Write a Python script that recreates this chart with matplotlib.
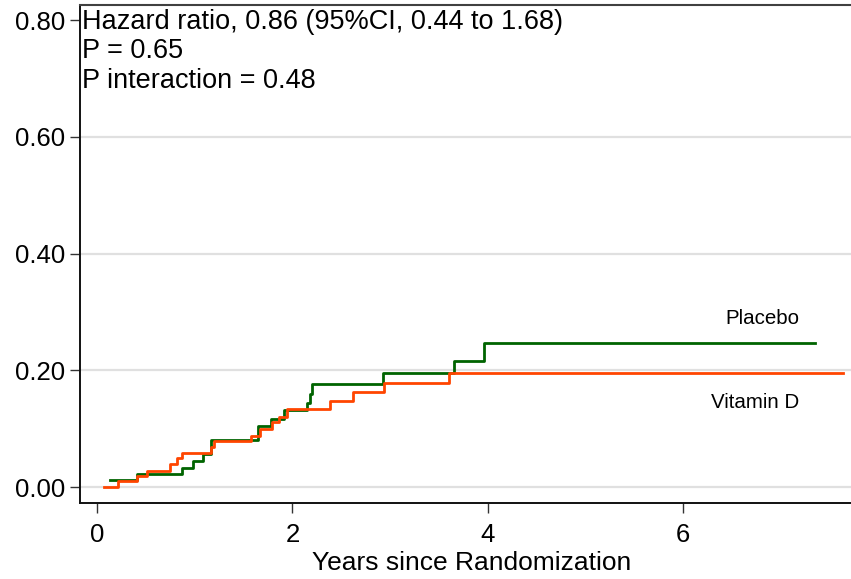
import matplotlib
matplotlib.use("Agg")
import matplotlib.pyplot as plt

# Data
vitd_t = [0.07, 0.215, 0.405, 0.51, 0.745, 0.82, 0.875, 1.165, 1.20, 1.575, 1.67, 1.79,
          1.865, 1.94, 2.385, 2.62, 2.94, 3.605, 7.64]
vitd_y = [0.0, 0.010, 0.019, 0.027, 0.039, 0.049, 0.059, 0.069, 0.079, 0.088, 0.099, 0.111,
          0.120, 0.133, 0.147, 0.163, 0.179, 0.196, 0.196]

plac_t = [0.13, 0.405, 0.865, 0.985, 1.08, 1.165, 1.65, 1.785, 1.915, 2.145, 2.18, 2.205,
          2.925, 3.655, 3.965, 7.35]
plac_y = [0.012, 0.023, 0.033, 0.045, 0.056, 0.081, 0.104, 0.116, 0.132, 0.144, 0.160, 0.176,
          0.195, 0.216, 0.247, 0.247]

x_ticks = [0, 2, 4, 6]
y_ticks = [0.0, 0.2, 0.4, 0.6, 0.8]
y_grid = [0.0, 0.2, 0.4, 0.6]
annot_lines = ["Hazard ratio, 0.86 (95%CI, 0.44 to 1.68)", "P = 0.65", "P interaction = 0.48"]

plt.rcParams['font.family'] = ['Liberation Sans', 'DejaVu Sans']

W, H = 851, 579
fig = plt.figure(figsize=(W / 100, H / 100), dpi=100)
L, T, B, R = 80, 5, 503, 852
ax = fig.add_axes([L / W, 1 - B / H, (R - L) / W, (B - T) / H])

ax.set_xlim(-0.174, 7.727)
ax.set_ylim(-0.0274, 0.8257)

for g in y_grid:
    ax.axhline(g, color='#e0e0e0', lw=1.6, zorder=0)

ax.step(plac_t, plac_y, where='post', color='#006400', lw=2.0, zorder=2)
ax.step(vitd_t, vitd_y, where='post', color='#ff4500', lw=2.0, zorder=3)

ax.text(7.19, 0.288, "Placebo", ha='right', va='center', fontsize=14.8)
ax.text(7.19, 0.144, "Vitamin D", ha='right', va='center', fontsize=14.8)

for i, line in enumerate(annot_lines):
    ypx = 29 + i * 29.5
    ax.text((82 - L) / (R - L), 1 - (ypx - T) / (B - T), line, transform=ax.transAxes,
            ha='left', va='baseline', fontsize=19.5)

ax.set_xticks(x_ticks)
ax.set_xticklabels([str(v) for v in x_ticks])
ax.set_yticks(y_ticks)
ax.set_yticklabels([f"{v:.2f}" for v in y_ticks])
ax.tick_params(axis='both', labelsize=18.5, length=7.5, width=1.0, color='#333333')
ax.tick_params(axis='x', pad=7)
ax.tick_params(axis='y', pad=3)

ax.set_xlabel("Years since Randomization", fontsize=19)
ax.xaxis.set_label_coords((472 - L) / (R - L), -(551 - B) / (B - T))

for s in ['left', 'bottom']:
    ax.spines[s].set_color('#111111')
    ax.spines[s].set_linewidth(1.4)
ax.spines['top'].set_color('#404040')
ax.spines['top'].set_linewidth(1.5)
ax.spines['right'].set_visible(False)

fig.savefig("out.png", dpi=100)
